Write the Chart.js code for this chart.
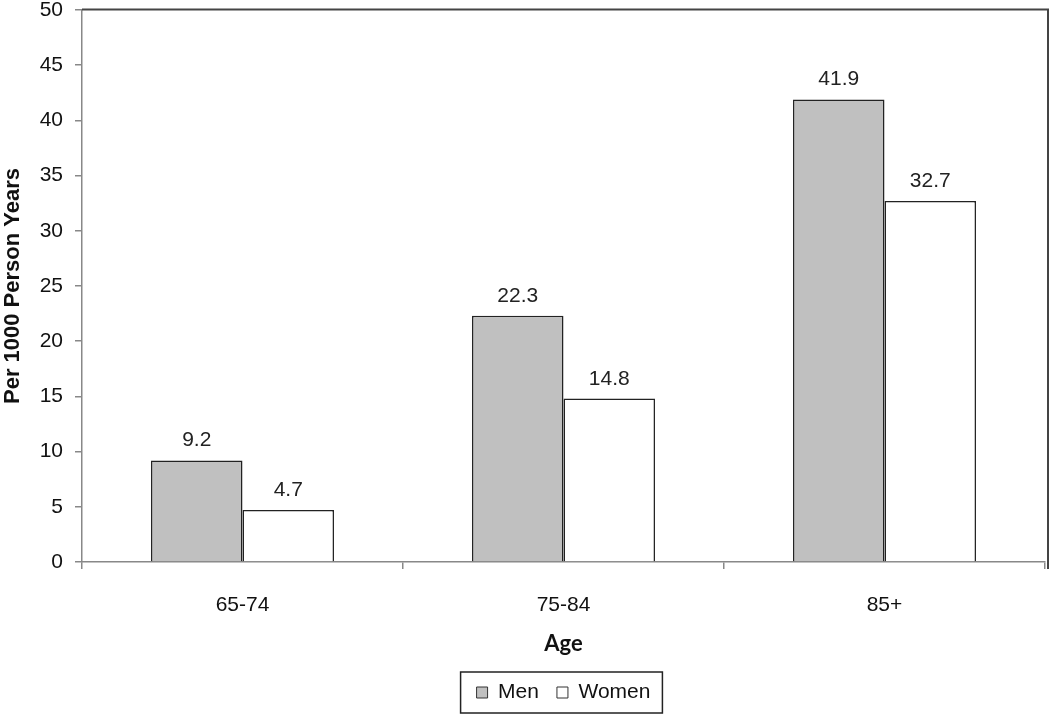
<!DOCTYPE html>
<html><head><meta charset="utf-8">
<script src="https://cdn.jsdelivr.net/npm/chart.js@4"></script>
<style>html,body{margin:0;padding:0;background:#fff;}#wrap{width:1050px;height:715px;}</style>
</head><body><div id="wrap"><canvas id="c" width="1050" height="715"></canvas></div>
<script>
const categories = ["65-74", "75-84", "85+"];
const menValues = [9.2, 22.3, 41.9];
const womenValues = [4.7, 14.8, 32.7];
const seriesNames = ["Men", "Women"];
const yTitle = "Per 1000 Person Years";
const xTitle = "Age";

const FONT = '"Liberation Sans", Arial, sans-serif';

const valueLabels = {
  id: 'valueLabels',
  afterDatasetsDraw(chart) {
    const ctx = chart.ctx;
    ctx.save();
    ctx.font = '21px ' + FONT;
    ctx.fillStyle = '#222';
    ctx.textAlign = 'center';
    ctx.textBaseline = 'alphabetic';
    chart.data.datasets.forEach((ds, i) => {
      chart.getDatasetMeta(i).data.forEach((bar, j) => {
        ctx.fillText(ds.data[j].toFixed(1), bar.x, bar.y - 14);
      });
    });
    ctx.restore();
  }
};
const frame = {
  id: 'frame',
  afterDraw(chart) {
    const ctx = chart.ctx, a = chart.chartArea;
    ctx.save();
    ctx.strokeStyle = '#444';
    ctx.lineWidth = 2;
    ctx.beginPath();
    ctx.moveTo(a.left, a.top - 0.5);
    ctx.lineTo(1048, a.top - 0.5);
    ctx.lineTo(1048, a.bottom + 7);
    ctx.stroke();
    const lg = chart.legend;
    ctx.strokeStyle = '#222';
    ctx.lineWidth = 1.5;
    const items = lg.legendHitBoxes;
    if (items && items.length) {
      const l = items[0].left - 16, r = items[items.length-1].left + items[items.length-1].width + 12;
      const t = items[0].top - 10, b = items[0].top + items[0].height + 10;
      ctx.strokeRect(l, t, r - l, b - t);
    }
    ctx.restore();
  }
};

new Chart(document.getElementById('c'), {
  type: 'bar',
  data: {
    labels: categories,
    datasets: [
      { label: seriesNames[0], data: menValues, backgroundColor: '#c0c0c0', borderColor: '#222', borderWidth: 1.5 },
      { label: seriesNames[1], data: womenValues, backgroundColor: '#ffffff', borderColor: '#222', borderWidth: 1.5 }
    ]
  },
  options: {
    responsive: false,
    animation: false,
    layout: { padding: { left: 0, top: 0, right: 5, bottom: 2 } },
    datasets: { bar: { categoryPercentage: 0.57, barPercentage: 1.0 } },
    plugins: {
      legend: {
        position: 'bottom',
        fullSize: false,
        labels: {
          boxWidth: 11, boxHeight: 11, padding: 18,
          color: '#111',
          font: { size: 21, family: FONT },
          generateLabels(chart) {
            return chart.data.datasets.map((ds, i) => ({
              text: ds.label, fillStyle: ds.backgroundColor, strokeStyle: '#333', lineWidth: 1, datasetIndex: i, fontColor: '#111'
            }));
          }
        }
      },
      tooltip: { enabled: false }
    },
    scales: {
      x: {
        offset: true,
        afterFit(scale) { scale.height = 102; },
        grid: { offset: true, drawOnChartArea: false, drawTicks: true, tickLength: 7, color: '#888', lineWidth: 1.5 },
        border: { color: '#888', width: 1.5 },
        ticks: { color: '#111', padding: 24, font: { size: 21, family: FONT } },
        title: { display: true, text: xTitle, color: '#111', padding: { top: 14, bottom: 7 }, font: { size: 22, weight: 'bold', family: 'Lato, "Open Sans", sans-serif' } }
      },
      y: {
        min: 0, max: 50,
        afterFit(scale) { scale.width = 82; scale.paddingTop = 10; },
        grid: { drawOnChartArea: false, drawTicks: true, tickLength: 7, color: '#888', lineWidth: 1.5 },
        border: { color: '#888', width: 1.5 },
        ticks: { stepSize: 5, color: '#111', padding: 12, font: { size: 21, family: FONT } },
        title: { display: true, text: yTitle, color: '#111', padding: { top: 0, bottom: 2 }, font: { size: 22, weight: 'bold', family: FONT } }
      }
    }
  },
  plugins: [valueLabels, frame]
});
</script></body></html>
